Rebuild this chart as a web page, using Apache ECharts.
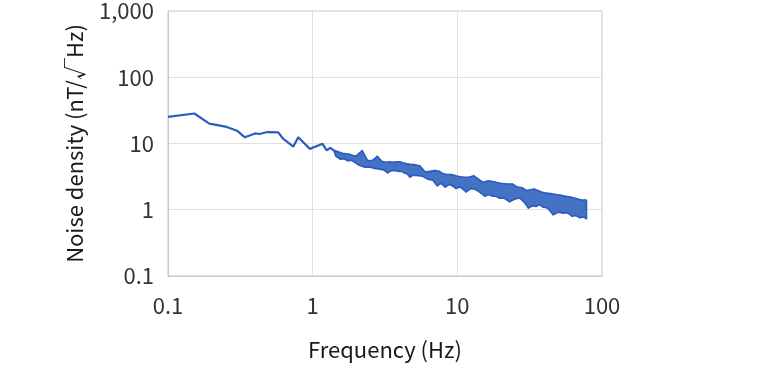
<!DOCTYPE html>
<html>
<head>
<meta charset="utf-8">
<script src="https://cdn.jsdelivr.net/npm/echarts@6/dist/echarts.min.js"></script>
<style>html,body{margin:0;padding:0;background:#fff;}#c{width:768px;height:366px;}</style>
</head>
<body>
<div id="c"></div>
<script>
// Low-frequency part (thin line)
const freqLow = [0.1, 0.152, 0.193, 0.255, 0.30, 0.34, 0.40, 0.43, 0.485, 0.578, 0.627, 0.735, 0.795, 0.957, 1.17, 1.25, 1.32, 1.40];
const ndLow   = [25.3, 28.4, 20.0, 17.8, 15.6, 12.4, 14.2, 13.9, 14.9, 14.7, 11.7, 9.0, 12.4, 8.3, 9.9, 7.9, 8.6, 7.9];

// Higher-frequency part (dense noisy line; alternating local peaks / troughs)
const freqHigh = [
  1.40,1.45,1.50,1.55,1.60,1.65,1.70,1.75,1.80,1.85,1.90,1.95,2.00,
  2.1,2.2,2.3,2.4,2.5,2.6,2.7,2.8,2.9,
  3.0,3.1,3.2,3.3,3.4,3.5,3.6,3.7,3.8,3.9,4.0,4.1,4.2,4.3,4.4,4.5,4.6,4.7,4.8,4.9,5.0,
  5.25,5.5,5.75,6.0,6.25,6.5,6.75,7.0,7.25,7.5,7.75,8.0,8.25,8.5,8.75,9.0,9.25,9.5,9.75,10.0,
  10.5,11,11.5,12,12.5,13,13.5,14,14.5,15,15.5,16,16.5,17,17.5,18,18.5,19,19.5,20,
  21,22,23,24,25,26,27,28,29,30,31,32,33,34,35,36,37,38,39,40,
  42,44,46,48,50,52,54,56,58,60,62,64,66,68,70,72,74,76,77,78,78
];
const ndHigh = [
  7.9,6.4,7.5,5.8,7.1,5.9,7.0,5.5,6.9,5.6,6.6,5.2,6.5,
  4.7,7.8,4.4,5.5,4.4,5.6,4.2,6.4,4.1,
  5.4,4.0,5.2,3.6,5.3,3.9,5.2,3.9,5.3,3.8,5.3,3.8,5.1,3.6,5.0,3.5,4.9,3.1,4.8,3.3,4.8,
  3.3,4.6,3.2,3.7,2.9,3.8,2.8,3.9,2.3,3.8,2.5,3.5,2.2,3.4,2.4,3.4,2.3,3.3,2.1,3.2,
  2.2,3.1,1.86,3.1,2.1,3.25,2.0,2.9,1.8,2.6,1.6,2.7,1.7,2.7,1.6,2.65,1.6,2.55,1.5,2.5,
  1.5,2.45,1.32,2.45,1.45,2.2,1.5,2.15,1.3,1.95,1.06,2.0,1.15,2.05,1.12,1.95,1.2,1.85,1.1,1.8,
  1.06,1.75,0.84,1.7,0.92,1.65,0.89,1.6,0.9,1.55,0.8,1.5,0.82,1.45,0.76,1.4,0.78,1.4,0.75,1.39,0.73
];

const xTickLabels = ['0.1', '1', '10', '100'];
const yTickLabels = ['0.1', '1', '10', '100', '1,000'];

const lowData = freqLow.map((f, i) => [f, ndLow[i]]);
const highData = freqHigh.map((f, i) => [f, ndHigh[i]]);
// peaks (even index) and troughs (odd index) of the dense trace, used to fill between them
const peaks = highData.filter((d, i) => i % 2 === 0);
const troughs = highData.filter((d, i) => i % 2 === 1);

const FONT = '"Noto Sans CJK JP", "Noto Sans", sans-serif';
const chart = echarts.init(document.getElementById('c'), null, {renderer: 'canvas'});

function fmt(list) {
  return function (v) {
    const idx = Math.round(Math.log10(v)) + 1;
    return list[idx] !== undefined ? list[idx] : '';
  };
}

chart.setOption({
  animation: false,
  grid: {left: 168, right: 166, top: 11, bottom: 85, show: true, borderColor: '#c8c8c8', borderWidth: 1},
  xAxis: {
    type: 'log', logBase: 10, min: 0.1, max: 100,
    name: 'Frequency (Hz)', nameLocation: 'middle', nameGap: 63,
    nameTextStyle: {fontFamily: FONT, fontSize: 22, color: '#1a1a1a'},
    axisLine: {show: true, lineStyle: {color: '#c8c8c8'}},
    axisTick: {show: false},
    axisLabel: {fontFamily: FONT, fontSize: 22, color: '#333', margin: 19, formatter: fmt(xTickLabels)},
    splitLine: {show: true, lineStyle: {color: '#e0e0e0', width: 1}},
    minorTick: {show: false}, minorSplitLine: {show: false}
  },
  yAxis: {
    type: 'log', logBase: 10, min: 0.1, max: 1000,
    name: 'Noise density (nT/√Hz)', nameLocation: 'middle', nameGap: 82, nameRotate: 90,
    nameTextStyle: {fontFamily: FONT, fontSize: 22, color: '#1a1a1a'},
    axisLine: {show: true, lineStyle: {color: '#c8c8c8'}},
    axisTick: {show: false},
    axisLabel: {fontFamily: FONT, fontSize: 22, color: '#333', margin: 14, formatter: fmt(yTickLabels)},
    splitLine: {show: true, lineStyle: {color: '#e0e0e0', width: 1}},
    minorTick: {show: false}, minorSplitLine: {show: false}
  },
  series: [
    {
      type: 'custom', z: 4, silent: true,
      data: [[freqHigh[0], ndHigh[0]]],
      renderItem: function (params, api) {
        const pts = peaks.map(d => api.coord(d)).concat(troughs.slice().reverse().map(d => api.coord(d)));
        return {type: 'polygon', shape: {points: pts},
                style: {fill: '#4472c4', stroke: '#2c5cbf', lineWidth: 1.6, lineJoin: 'round'}};
      }
    },
    {type: 'line', data: lowData, showSymbol: false, symbol: 'none', smooth: false,
     lineStyle: {color: '#2b5cc2', width: 2.2}, z: 3},
    {type: 'line', data: highData, showSymbol: false, symbol: 'none', smooth: false,
     lineStyle: {color: '#4472c4', width: 1.5, join: 'round'}, z: 3}
  ]
});
</script>
</body>
</html>
